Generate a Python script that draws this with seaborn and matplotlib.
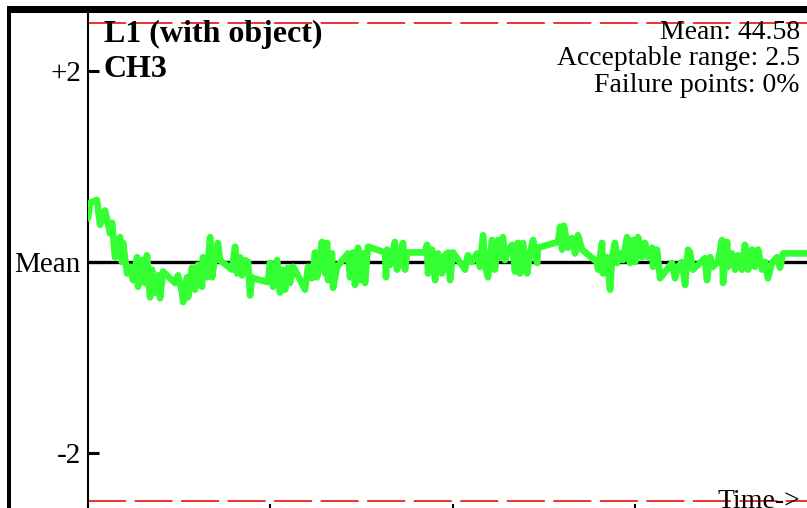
import matplotlib
matplotlib.use("Agg")
import matplotlib.pyplot as plt
from matplotlib.patches import Rectangle
import numpy as np
import pandas as pd
import seaborn as sns

# ---------------- data ----------------
time = [0.0, 1.1, 4.9, 6.6, 9.3, 12.1, 13.2, 14.8, 17.5, 18.6, 19.2, 21.4, 23.0, 24.7, 26.9,
        27.4, 29.6, 31.2, 32.3, 34.0, 35.1, 36.7, 38.4, 39.5, 41.1, 44.9, 47.7, 49.3, 51.5,
        52.1, 54.3, 54.8, 57.0, 58.6, 60.3, 62.5, 63.0, 65.2, 66.9,
        68.0, 69.6, 71.2, 72.3, 78.9, 80.6, 81.7, 83.3, 84.4, 86.0, 87.7, 88.8, 89.9, 90.4,
        98.6, 99.7, 101.4, 103.6, 105.2, 106.3, 108.0, 109.6, 110.7, 112.3, 113.4, 118.9,
        120.6, 122.8, 124.4, 125.5, 127.1, 128.2, 129.9,
        131.0, 131.5, 133.7, 134.3, 136.5, 142.5, 143.6, 145.2, 146.3, 148.0, 149.1, 150.7,
        151.8, 153.4, 162.8, 163.3, 163.9, 165.5, 168.2, 169.3, 171.0, 172.6, 173.7, 174.8,
        184.7, 185.8, 186.3, 188.5, 190.2, 191.8, 194.0, 195.6,
        197.3, 198.4, 200.0, 206.6, 208.2, 210.4, 213.2, 214.8, 216.5, 217.6, 219.2, 221.4,
        223.0, 224.7, 225.8, 227.4, 228.5, 230.2, 232.4, 234.0, 235.6, 236.7, 238.4, 240.6,
        242.2, 243.9, 246.1, 246.6, 257.6, 258.7, 259.8, 260.8,
        263.0, 265.2, 266.9, 268.5, 270.7, 278.9, 279.5, 281.7, 282.2, 284.4, 286.1, 287.2,
        288.8, 289.9, 291.5, 293.2, 295.4, 297.0, 298.7, 299.8, 301.4, 303.6, 305.2, 306.9,
        309.1, 309.6, 311.8, 313.5, 320.0, 321.7, 323.3, 325.5, 327.2, 328.8,
        329.9, 331.5, 338.1, 339.2, 340.9, 342.5, 345.2, 347.4, 348.0, 350.2, 350.7, 352.9,
        354.6, 356.2, 358.4, 360.0, 361.7, 363.9, 365.5, 367.2, 369.4, 371.0, 372.6, 374.8,
        377.6, 379.2, 380.9, 382.0, 410.0]

deviation = [0.46, 0.62, 0.65, 0.39, 0.54, 0.30, 0.41, 0.05, 0.26, 0.00, 0.20, -0.12, -0.05,
             -0.19, 0.05, -0.26, 0.02, -0.22, 0.07, -0.37, -0.08, -0.32, -0.14, -0.38, -0.10,
             -0.17, -0.22, -0.14, -0.31, -0.42, -0.16, -0.37, -0.06, -0.29, -0.03, -0.26, 0.05,
             -0.16, 0.26,
             -0.16, 0.05, 0.20, 0.02, -0.08, 0.16, -0.12, 0.05, -0.14, 0.02, 0.00, -0.35, -0.16,
             -0.17, -0.21, -0.01, -0.26, 0.02, -0.32, -0.08, -0.29, -0.06, -0.22, -0.05, -0.08,
             -0.29, -0.05, -0.17, 0.10, -0.16, 0.05, 0.21, -0.12,
             0.20, -0.19, 0.09, -0.27, -0.05, 0.09, -0.16, 0.10, -0.24, 0.15, -0.19, 0.09,
             -0.22, 0.16, 0.10, -0.16, 0.13, -0.03, 0.21, -0.08, 0.02, 0.20, -0.08, 0.10,
             0.10, 0.18, -0.12, 0.13, -0.19, 0.09, -0.12, 0.07,
             0.10, -0.19, 0.10, -0.08, 0.07, 0.00, 0.09, -0.05, 0.28, -0.05, -0.16, 0.23,
             -0.08, 0.23, 0.05, 0.26, 0.02, 0.13, 0.18, -0.10, 0.20, -0.12, 0.20, -0.12,
             0.09, 0.23, -0.01, 0.15, 0.21, 0.37, 0.13, 0.38,
             0.15, 0.25, 0.09, 0.28, 0.13, 0.00, -0.08, 0.20, -0.12, 0.05, -0.29, 0.05,
             0.20, -0.01, 0.09, 0.02, 0.26, -0.01, 0.23, 0.00, 0.26, 0.05, 0.20, 0.05,
             0.15, -0.05, 0.13, -0.17, -0.01, -0.17, -0.05, 0.00, -0.24, 0.13,
             0.10, -0.08, 0.04, -0.19, 0.05, -0.05, 0.00, 0.23, -0.22, 0.21, -0.05, 0.09,
             -0.08, 0.07, -0.08, 0.18, -0.08, 0.13, -0.05, 0.13, -0.08, 0.00, -0.17, -0.01,
             0.05, -0.06, 0.09, 0.09, 0.09]

mean_value = 44.58
acceptable_range = 2.5
failure_pct = 0
ytick_vals = [-2, 0, 2]
ytick_labels = ["-2", "Mean", "+2"]
xtick_vals = [0, 100, 200, 300]
title_line1 = "L1 (with object)"
title_line2 = "CH3"
time_label = "Time->"

# ---------------- style ----------------
sns.set_style("white")
plt.rcParams["font.family"] = ["Liberation Serif", "DejaVu Serif"]
plt.rcParams["text.color"] = "black"
plt.rcParams["axes.labelcolor"] = "black"
plt.rcParams["xtick.color"] = "black"
plt.rcParams["ytick.color"] = "black"

W, H = 807, 508
fig = plt.figure(figsize=(W / 100, H / 100), dpi=100)
fig.patch.set_facecolor("white")


def fx(px):
    return px / W


def fy(py):
    return 1 - py / H


ax = fig.add_axes([fx(88), fy(511), 1 - fx(88), (511 - 13) / H])
ax.set_facecolor("none")

df = pd.DataFrame({"time": time, "deviation": deviation})
sns.lineplot(data=df, x="time", y="deviation", ax=ax, color="#33ff33", linewidth=4.8,
             estimator=None, sort=False, solid_capstyle="round", solid_joinstyle="round",
             zorder=4)

ax.axhline(0, color="black", lw=2.4, zorder=3)
lw_red = 1.3
for v in (acceptable_range, -acceptable_range):
    ax.axhline(v, color="#ee2222", lw=lw_red,
               linestyle=(0, (27.4 / lw_red, 6.1 / lw_red)), zorder=2)

ax.set_xlim(0, 394)
ax.set_ylim(-2.61, 2.61)
ax.set_yticks(ytick_vals, ytick_labels)
ax.set_xticks(xtick_vals, [""] * len(xtick_vals))
ax.tick_params(axis="y", direction="in", length=8, width=2.2, labelsize=21, pad=5,
               colors="black", labelcolor="black", left=True)
ax.tick_params(axis="x", direction="in", length=5, width=1.5, bottom=True,
               labelbottom=False, colors="black")
sns.despine(ax=ax, top=True, right=True)
ax.spines["left"].set_linewidth(1.5)
ax.spines["left"].set_color("black")
ax.spines["bottom"].set_color("black")
ax.set_xlabel("")
ax.set_ylabel("")

# ---------------- texts ----------------
fig.text(fx(104), fy(42), title_line1, fontsize=23, fontweight="bold", ha="left",
         va="baseline", color="black", zorder=5)
fig.text(fx(104), fy(77), title_line2, fontsize=23, fontweight="bold", ha="left",
         va="baseline", color="black", zorder=5)
fig.text(fx(800), fy(39), f"Mean: {mean_value}", fontsize=20, ha="right", va="baseline",
         color="black")
fig.text(fx(800), fy(65), f"Acceptable range: {acceptable_range}", fontsize=20,
         ha="right", va="baseline", color="black")
fig.text(fx(800), fy(92), f"Failure points: {failure_pct}%", fontsize=20, ha="right",
         va="baseline", color="black")
fig.text(fx(800), fy(508), time_label, fontsize=20, ha="right", va="baseline",
         color="black")

# ---------------- frame bars ----------------
fig.add_artist(Rectangle((fx(7), fy(12.5)), 1 - fx(7), 6.5 / H, transform=fig.transFigure,
                         facecolor="black", edgecolor="none"))
fig.add_artist(Rectangle((fx(7), 0), 4 / W, fy(6), transform=fig.transFigure,
                         facecolor="black", edgecolor="none"))

fig.savefig("out.png", dpi=100)
